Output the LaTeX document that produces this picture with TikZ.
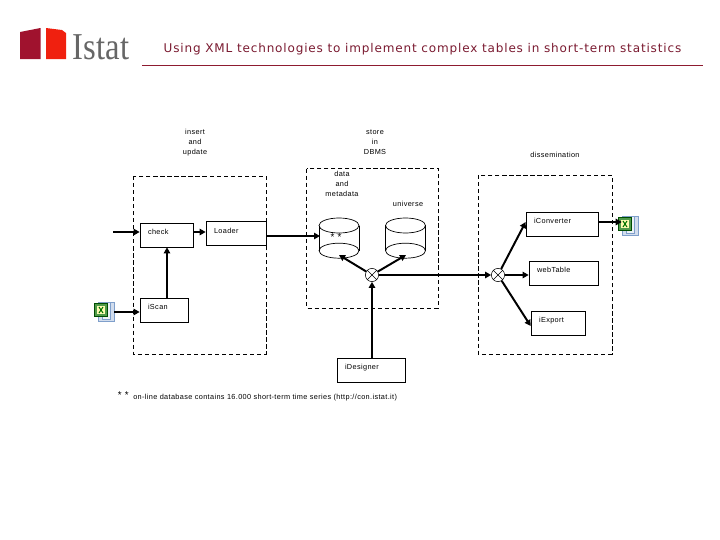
\documentclass[tikz,border=0pt]{standalone}
\usepackage{fontspec}
\setmainfont[LetterSpace=5]{Liberation Sans}
\newfontfamily\titlefont[LetterSpace=7]{DejaVu Sans}
\newfontfamily\logofont{Liberation Serif}
\usetikzlibrary{arrows.meta}
\definecolor{titlered}{HTML}{7A1A30}
\definecolor{rulered}{HTML}{8E1B30}
\definecolor{logodark}{HTML}{A0122E}
\definecolor{logobright}{HTML}{F0200F}
\definecolor{logogray}{HTML}{666666}
\definecolor{xlgreen}{HTML}{4F9A4A}
\definecolor{xlblue}{HTML}{7F9FCB}

\begin{document}
\begin{tikzpicture}[x=0.25mm,y=-0.25mm]
\tikzset{
  toolbox/.style={draw,line width=0.5pt,inner xsep=2mm,inner ysep=0pt,minimum height=6mm,
    align=left,text width=#1,text height=1.3mm,text depth=1.5mm,font=\fontsize{5.2}{6}\selectfont},
  tag/.style={align=center,inner sep=0pt,text height=1.4mm,text depth=0.4mm,font=\fontsize{5.2}{6.8}\selectfont},
  zone/.style={draw,dashed,line width=0.6pt,dash pattern=on 3pt off 2pt},
  store/.style={minimum width=10mm,minimum height=12.8mm,inner sep=0pt},
  junction/.style={circle,draw,line width=0.4pt,minimum size=3.3mm,inner sep=0pt,fill=white},
  flow/.style={-{Triangle[length=1.5mm,width=1.6mm]},line width=1.4pt},
  xlfile/.style={draw=xlblue,fill=xlblue!35,line width=0.4pt,minimum width=4mm,minimum height=4.75mm,inner sep=0pt}
}
\useasboundingbox (0,0) rectangle (720,540);
% header
\fill[logodark] (20,32) -- (40.5,28) -- (40.5,59) -- (20,59) -- cycle;
\fill[logobright] (46,28) -- (62,30) -- (66,33) -- (66,59) -- (46,59) -- cycle;
\node[inner sep=0pt,text=logogray,font=\logofont\fontsize{27}{27}\selectfont,xscale=0.86] (logotext) at (101,47) {Istat};
\node[inner sep=0pt,text=titlered,font=\titlefont\fontsize{8.55}{10}\selectfont] (headline) at (422.5,49) {Using XML technologies to implement complex tables in short-term statistics};
\draw[rulered,line width=0.6pt] (142,65.5) -- (703,65.5);
% zones
\draw[zone] (133,176) rectangle (266,354);
\draw[zone] (306.5,168.5) rectangle (438,308);
\draw[zone] (478,175) rectangle (612,354);
% zone titles
\node[tag] (t_insert) at (195,152) {insert\\and\\update};
\node[tag] (t_store) at (375,152) {store\\in\\DBMS};
\node[tag] (t_dissem) at (555,155.5) {dissemination};
\node[tag] (t_data) at (342,194) {data\\and\\metadata};
\node[tag] (t_univ) at (408,204.5) {universe};
% tools
\node[toolbox=9.25mm] (n_check) at (166.5,235) {check};
\node[toolbox=11mm] (n_loader) at (236,233.5) {Loader};
\node[toolbox=8mm] (n_scan) at (164,310) {iScan};
\node[toolbox=14mm] (n_conv) at (562,224) {iConverter};
\node[toolbox=13.25mm] (n_web) at (563.5,273) {webTable};
\node[toolbox=9.6mm] (n_export) at (558.25,323) {iExport};
\node[toolbox=13mm] (n_design) at (371,370) {iDesigner};
% databases
\foreach \n/\x in {n_db/339,n_univ/405.5} {
  \node[store] (\n) at (\x,238) {};
  \draw[line width=0.5pt] (\x,225.5) ellipse (20 and 7.5);
  \draw[line width=0.5pt] (\x,250.7) ellipse (20 and 7.5);
  \draw[line width=0.5pt] (\x-20,225.5) -- (\x-20,250.7) (\x+20,225.5) -- (\x+20,250.7);
}
\node[tag,font=\fontsize{7}{8}\selectfont] (n_star) at (336,238) {* *};
% junctions
\node[junction] (n_j1) at (372,275) {};
\node[junction] (n_j2) at (498,275) {};
\foreach \j in {n_j1,n_j2} {
  \draw[line width=0.4pt] (\j.north west) -- (\j.south east);
  \draw[line width=0.4pt] (\j.north east) -- (\j.south west);
}
% spreadsheets
\foreach \n/\x/\y in {n_xla/104/312,n_xlb/628/226} {
  \node[xlfile] (\n) at (\x+2,\y) {};
  \draw[xlblue,fill=white!85!xlblue,line width=0.3pt] (\x-2,\y-9.5) rectangle (\x+6,\y+7);
  \draw[green!30!black,fill=xlgreen,line width=0.4pt] (\x-10,\y-8.5) rectangle (\x+3,\y+4);
  \fill[white!70!yellow] (\x-7.5,\y-6) rectangle (\x+1,\y+2);
  \draw[green!45!black,line width=0.7pt] (\x-5,\y-5) -- (\x-1,\y+1) (\x-1,\y-5) -- (\x-5,\y+1);
}
% free ends
\coordinate (c_in) at (113,232);
\coordinate (c_db) at (339,255);
\coordinate (c_univ) at (406,255);
\coordinate (c_load) at (320,236);
% flows
\draw[flow] (c_in) -- (n_check.west |- c_in);
\draw[flow] (n_check.east |- c_in) -- (n_loader.west |- c_in);
\draw[flow] (167,0 |- n_scan.north) -- (167,0 |- n_check.south);
\draw[flow] (n_xla.east |- 0,312) -- (n_scan.west |- 0,312);
\draw[flow] (n_loader.east |- c_load) -- (c_load);
\draw[flow] (n_j1) -- (c_db);
\draw[flow] (n_j1) -- (c_univ);
\draw[flow] (n_j1) -- (n_j2);
\draw[flow] (n_design.north -| n_j1) -- (n_j1);
\draw[flow] (n_j2) -- (n_conv.west |- 0,222);
\draw[flow] (n_j2) -- (n_web.west |- n_j2);
\draw[flow] (n_j2) -- (n_export.west |- 0,326);
\draw[flow] (n_conv.east |- 0,222) -- (n_xlb.west |- 0,222);
% note
\node[tag,anchor=west,font=\fontsize{7}{8}\selectfont] (n_mark) at (117.5,396) {* *};
\node[tag,anchor=west] (n_note) at (133,397.5) {on-line database contains 16.000 short-term time series (http://con.istat.it)};
\end{tikzpicture}
\end{document}
